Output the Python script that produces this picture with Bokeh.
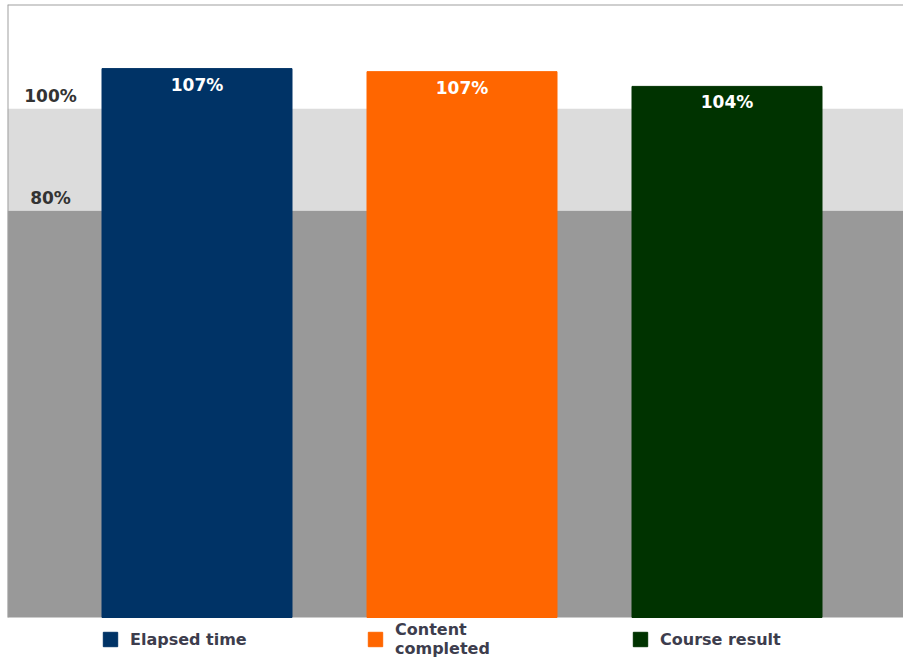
from bokeh.plotting import figure
from bokeh.models import (ColumnDataSource, BoxAnnotation, Span, Label, Legend,
                          LegendItem, Range1d)
from bokeh.embed import file_html
from bokeh.resources import INLINE
from bokeh.core.properties import value

# ---- data ----
categories = ["Elapsed time", "Content\ncompleted", "Course result"]
values = [107.9, 107.3, 104.4]
value_labels = ["107%", "107%", "104%"]
colors = ["#003366", "#ff6600", "#003300"]
band_edges = [0, 80, 100]
threshold_values = [100, 80]
threshold_labels = ["100%", "80%"]
y_max = 120.5

# ---- layout ----
W, H = 903, 664
LEFT, TOP = 7, 4
ZERO_PX = 617                     # pixel row of the 0 baseline
PX_PER_PCT = (ZERO_PX - TOP) / y_max
y_min = -(H - ZERO_PX) / PX_PER_PCT
PX_PER_UNIT = 265.0
x_start = 1 - (196.5 - LEFT) / PX_PER_UNIT
x_end = x_start + (W - LEFT) / PX_PER_UNIT
bar_width = 190 / PX_PER_UNIT
xs = list(range(1, len(categories) + 1))
label_x = x_start + 43 / PX_PER_UNIT

FONT = value("DejaVu Sans")

p = figure(width=W, height=H, x_range=Range1d(x_start, x_end),
           y_range=Range1d(y_min, y_max), output_backend="svg",
           toolbar_location=None, x_axis_type=None, y_axis_type=None,
           min_border_left=LEFT, min_border_right=0, min_border_top=TOP,
           min_border_bottom=0)
p.xgrid.visible = False
p.ygrid.visible = False
p.outline_line_color = None
p.background_fill_color = "white"
p.border_fill_color = "white"

# background bands
p.add_layout(BoxAnnotation(bottom=band_edges[0], top=band_edges[1],
                           fill_color="#999999", fill_alpha=1.0,
                           line_color=None, level="underlay"))
p.add_layout(BoxAnnotation(bottom=band_edges[1], top=band_edges[2],
                           fill_color="#dcdcdc", fill_alpha=1.0,
                           line_color=None, level="underlay"))

# borders (top and left of the chart area)
p.add_layout(Span(location=y_max, dimension="width", line_color="#a0a0a0",
                  line_width=2))
p.segment(x0=[x_start], y0=[0], x1=[x_start], y1=[y_max],
          line_color="#a0a0a0", line_width=2)

src = ColumnDataSource(dict(x=xs, top=values, label=value_labels,
                           color=colors, cat=categories))
bars = p.vbar(x="x", top="top", bottom=0, width=bar_width, color="color",
              source=src)

p.text(x="x", y="top", text="label", source=src, text_align="center",
       text_baseline="top", y_offset=6, text_color="white", text_font=FONT,
       text_font_style="bold", text_font_size="17px")

for tv, tl in zip(threshold_values, threshold_labels):
    p.add_layout(Label(x=label_x, y=tv, text=tl,
                       text_align="center", text_baseline="bottom",
                       y_offset=3, text_font="DejaVu Sans",
                       text_font_style="bold", text_font_size="17px",
                       text_color="#333333"))

items = [LegendItem(label=c, renderers=[bars], index=i)
         for i, c in enumerate(categories)]
legend = Legend(items=items, orientation="horizontal", location=(94, 6),
                glyph_width=18, glyph_height=18, label_standoff=11,
                label_width=226, spacing=10, padding=0, margin=0,
                border_line_color=None, background_fill_alpha=0,
                label_text_font="DejaVu Sans", label_text_font_style="bold",
                label_text_font_size="16px", label_text_color="#3d3d4d",
                label_text_line_height=1.0)
p.add_layout(legend)

open("out.html", "w").write(file_html(p, INLINE))
